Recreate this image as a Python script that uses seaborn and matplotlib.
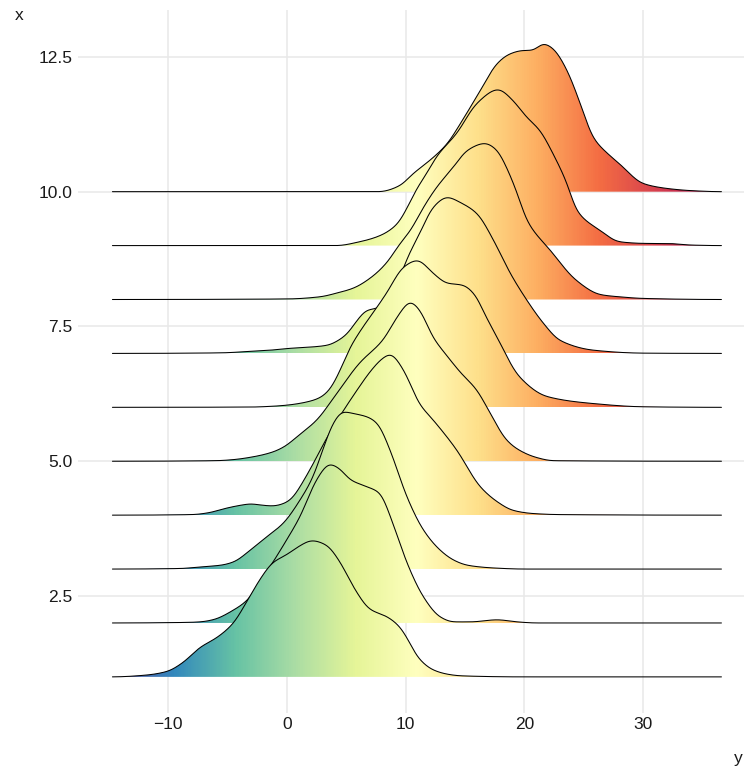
import numpy as np
import pandas as pd
import matplotlib
matplotlib.use("Agg")
import matplotlib.pyplot as plt
from matplotlib.colors import Normalize
from matplotlib.patches import Polygon
import seaborn as sns

# ---------------- data ----------------
groups = [1, 2, 3, 4, 5, 6, 7, 8, 9, 10]

r1_x = [-14.7, -12, -10.1, -8.8, -7.3, -5.9, -4.5, -3.4, -2.3, -1.2, 0, 1, 2.1, 3.3, 4.5, 5.6, 7.0, 8.4, 9.5, 10.3, 11.0, 12.3, 13.5, 14.6, 20, 36.6]
r1_h = [0, 0.03, 0.1, 0.26, 0.55, 0.73, 1.0, 1.39, 1.8, 2.12, 2.27, 2.42, 2.53, 2.45, 2.12, 1.67, 1.25, 1.12, 0.93, 0.65, 0.37, 0.13, 0.05, 0.02, 0, 0]

r2_x = [-14.7, -8.5, -7.3, -6.2, -4.5, -3.3, -2.3, -1.2, 0, 1.1, 2.5, 3.6, 4.5, 5.3, 6.7, 7.8, 8.9, 10.1, 11.5, 12.9, 14.0, 15.5, 17.7, 19.4, 21, 36.6]
r2_h = [0, 0.01, 0.02, 0.06, 0.24, 0.43, 0.75, 1.12, 1.55, 1.97, 2.66, 2.95, 2.85, 2.66, 2.53, 2.42, 1.86, 1.12, 0.48, 0.11, 0.02, 0.02, 0.06, 0.02, 0, 0]

r3_x = [-14.7, -9, -7.3, -5.6, -4.5, -3.1, -1.7, -0.3, 1.1, 2.2, 3.0, 3.9, 4.7, 5.7, 6.7, 7.6, 8.7, 10.1, 11.5, 12.9, 14, 15.2, 17.4, 20, 36.6]
r3_h = [0, 0.01, 0.04, 0.07, 0.13, 0.35, 0.6, 0.85, 1.28, 1.71, 2.2, 2.71, 2.92, 2.88, 2.83, 2.71, 2.2, 1.34, 0.72, 0.35, 0.17, 0.07, 0.02, 0, 0]

r4_x = [-14.7, -8, -6.7, -5.1, -4, -3.0, -2.3, -1.2, 0, 0.5, 1.3, 2.2, 3.4, 4.7, 6.0, 7.0, 8.0, 8.7, 9.8, 11.2, 12.3, 14.3, 16.3, 17.9, 19.0, 20.7, 23, 36.6]
r4_h = [0, 0.01, 0.04, 0.13, 0.18, 0.21, 0.19, 0.17, 0.24, 0.33, 0.6, 0.95, 1.45, 1.92, 2.35, 2.66, 2.9, 2.99, 2.7, 2.05, 1.77, 1.21, 0.52, 0.22, 0.09, 0.03, 0.01, 0]

r5_x = [-14.7, -6, -4.5, -2.9, -1.2, 0, 0.5, 1.1, 2.5, 4.2, 6.1, 8.1, 9.3, 10.4, 11.2, 12.3, 13.5, 14.6, 16, 17.1, 18.5, 19.6, 21, 22.4, 36.6]
r5_h = [0, 0.01, 0.03, 0.08, 0.17, 0.3, 0.39, 0.5, 0.76, 1.26, 1.82, 2.25, 2.68, 2.96, 2.8, 2.3, 1.95, 1.65, 1.32, 0.9, 0.39, 0.2, 0.07, 0.01, 0]

r6_x = [-14.7, -3, -1.2, 0, 1.7, 2.8, 3.6, 4.4, 5.3, 6.4, 7.4, 8.4, 9.8, 11.0, 12.3, 13.5, 14.8, 16.0, 16.5, 17.7, 19.6, 21.9, 25.8, 30, 36.6]
r6_h = [0, 0.005, 0.02, 0.04, 0.1, 0.18, 0.33, 0.65, 1.1, 1.49, 1.8, 2.12, 2.6, 2.73, 2.49, 2.3, 2.27, 2.04, 1.8, 1.3, 0.56, 0.2, 0.07, 0.01, 0]

r7_x = [-14.7, -5.6, -3, -1.4, 0, 3.4, 4.4, 5.1, 5.9, 6.7, 7.6, 8.4, 9.3, 10.2, 11.2, 12.3, 13.5, 14.6, 16.0, 17.4, 18.8, 20.2, 21.6, 23.0, 25.8, 30, 36.6]
r7_h = [0, 0.01, 0.04, 0.06, 0.09, 0.15, 0.25, 0.37, 0.61, 0.8, 0.84, 0.93, 1.3, 1.8, 2.23, 2.71, 2.9, 2.8, 2.6, 2.1, 1.49, 0.99, 0.56, 0.24, 0.06, 0.005, 0]

r8_x = [-14.7, 0, 2.8, 4.2, 5.6, 7.1, 8.4, 9.5, 10.4, 11.5, 12.6, 14.0, 15.2, 16.7, 17.7, 18.5, 19.4, 20.2, 22.2, 24.4, 26.4, 28, 30, 36.6]
r8_h = [0, 0.01, 0.05, 0.12, 0.21, 0.41, 0.68, 1.03, 1.28, 1.71, 2.08, 2.45, 2.77, 2.9, 2.77, 2.45, 1.97, 1.47, 0.91, 0.35, 0.09, 0.05, 0.02, 0]

r9_x = [-14.7, 4.2, 6.1, 7.8, 9.3, 10.1, 10.9, 11.8, 12.6, 14.3, 16.0, 17.8, 19.0, 20.2, 21.3, 22.4, 23.6, 24.4, 26.4, 28, 30.3, 32, 34, 36.6]
r9_h = [0, 0.0, 0.07, 0.18, 0.4, 0.69, 1.04, 1.35, 1.65, 2.08, 2.64, 2.9, 2.7, 2.38, 2.14, 1.71, 1.15, 0.65, 0.28, 0.07, 0.04, 0.04, 0.01, 0]

r10_x = [-14.7, 7.8, 9.5, 10.6, 12.3, 13.5, 14.6, 16.3, 17.7, 18.8, 19.9, 20.7, 21.6, 22.4, 23.6, 24.7, 25.8, 27.0, 28, 30, 32, 34, 36.6]
r10_h = [0, 0, 0.11, 0.33, 0.63, 0.89, 1.26, 1.88, 2.38, 2.56, 2.62, 2.62, 2.75, 2.66, 2.25, 1.64, 1.0, 0.71, 0.52, 0.15, 0.06, 0.02, 0]

x_ticks = [-10, 0, 10, 20, 30]
y_ticks = [2.5, 5.0, 7.5, 10.0, 12.5]
x_title = "y"
y_title = "x"

ridges_x = [r1_x, r2_x, r3_x, r4_x, r5_x, r6_x, r7_x, r8_x, r9_x, r10_x]
ridges_h = [r1_h, r2_h, r3_h, r4_h, r5_h, r6_h, r7_h, r8_h, r9_h, r10_h]

df = pd.concat([pd.DataFrame({"group": g, "y": xs, "h": hs})
                for g, xs, hs in zip(groups, ridges_x, ridges_h)], ignore_index=True)


def pchip(xk, yk, xs):
    """Monotone cubic Hermite curve through the read points (for drawing)."""
    xk = np.asarray(xk, float)
    yk = np.asarray(yk, float)
    hk = np.diff(xk)
    dk = np.diff(yk) / hk
    n = len(xk)
    m = np.zeros(n)
    for k in range(1, n - 1):
        if dk[k - 1] * dk[k] <= 0:
            m[k] = 0.0
        else:
            w1 = 2 * hk[k] + hk[k - 1]
            w2 = hk[k] + 2 * hk[k - 1]
            m[k] = (w1 + w2) / (w1 / dk[k - 1] + w2 / dk[k])
    idx = np.clip(np.searchsorted(xk, xs) - 1, 0, n - 2)
    t = (xs - xk[idx]) / hk[idx]
    h00 = 2 * t**3 - 3 * t**2 + 1
    h10 = t**3 - 2 * t**2 + t
    h01 = -2 * t**3 + 3 * t**2
    h11 = t**3 - t**2
    return (h00 * yk[idx] + h10 * hk[idx] * m[idx]
            + h01 * yk[idx + 1] + h11 * hk[idx] * m[idx + 1])


def soften(v, sigma):
    """Round off the corners of the drawn path."""
    r = int(4 * sigma)
    k = np.exp(-0.5 * (np.arange(-r, r + 1) / sigma) ** 2)
    k /= k.sum()
    vp = np.pad(v, r, mode="edge")
    return np.convolve(vp, k, mode="valid")


# ---------------- figure ----------------
sns.set_theme(style="whitegrid")
plt.rcParams["font.family"] = ["Liberation Sans", "DejaVu Sans"]

W, H = 744, 769
fig = plt.figure(figsize=(W / 100, H / 100), dpi=100)
ax = fig.add_axes([78 / W, 56 / H, 666 / W, 703 / H])
ax.set_facecolor("white")

xmin, xmax = -14.7, 36.6
norm = Normalize(xmin, xmax)
grad = np.linspace(xmin, xmax, 600).reshape(1, -1)

for g in groups:
    sub = df[df["group"] == g]
    xs = np.linspace(xmin, xmax, 1200)
    hh = np.clip(pchip(sub["y"].values, sub["h"].values, xs), 0, None)
    hh = soften(hh, 7)
    top = hh + g
    z = 2 * (12 - g)
    verts = np.vstack([np.column_stack([xs, top]),
                       [[xmax, g], [xmin, g]]])
    poly = Polygon(verts, closed=True, facecolor="none", edgecolor="none",
                   transform=ax.transData)
    ax.add_patch(poly)
    im = ax.imshow(grad, extent=[xmin, xmax, g, g + 3.3], aspect="auto",
                   cmap="Spectral_r", norm=norm, origin="lower",
                   interpolation="bilinear", zorder=z)
    im.set_clip_path(poly)
    sns.lineplot(x=xs, y=top, ax=ax, color="black", linewidth=0.75,
                 zorder=z + 1, sort=False, estimator=None)

ax.set_xlim(-17.6, 38.5)
ax.set_ylim(0.33, 13.37)

ax.set_xticks(x_ticks)
ax.set_xticklabels([f"{v:g}".replace("-", "\u2212") for v in x_ticks])
ax.set_yticks(y_ticks)
ax.set_yticklabels([f"{v:.1f}" for v in y_ticks])
ax.tick_params(axis="x", length=0, pad=3, labelsize=12.5, labelcolor="#1a1a1a")
ax.tick_params(axis="y", length=0, pad=4, labelsize=12.5, labelcolor="#1a1a1a")
ax.grid(True, color="#e8e8e8", linewidth=1.1)
ax.set_axisbelow(True)
for s in ax.spines.values():
    s.set_visible(False)
ax.set_xlabel("")
ax.set_ylabel("")

fig.text(19 / W, 1 - 15 / H, y_title, ha="center", va="center",
         fontsize=12.5, color="#1a1a1a")
fig.text(743 / W, 1 - 758 / H, x_title, ha="right", va="center",
         fontsize=12.5, color="#1a1a1a")

fig.savefig("out.png", dpi=100)
